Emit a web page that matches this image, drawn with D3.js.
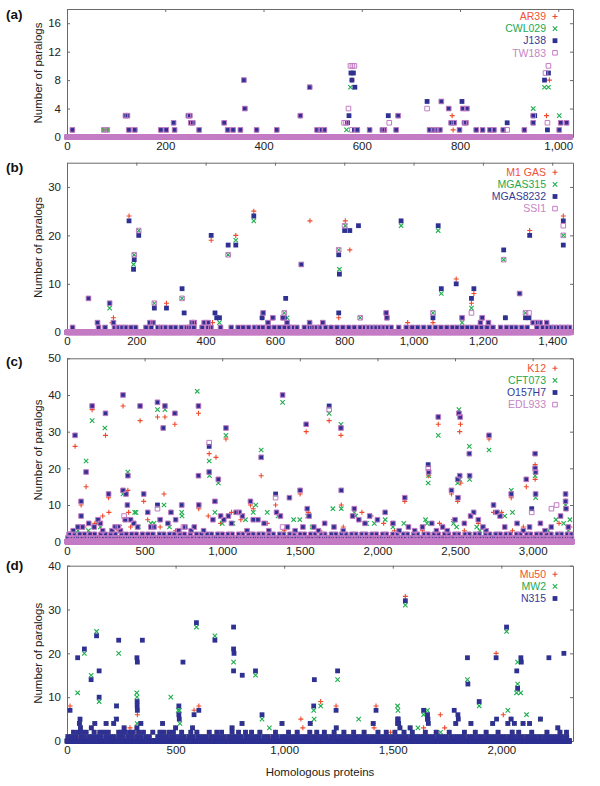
<!DOCTYPE html>
<html><head><meta charset="utf-8">
<script src="https://cdn.jsdelivr.net/npm/d3@7"></script>
<style>
body{margin:0;background:#fff}
svg{display:block}
text{font-family:"Liberation Sans",Arial,Helvetica,sans-serif}
</style>
</head><body>
<svg id="chart" width="600" height="786"></svg>
<script>
// ---------------- DATA ----------------
// (a) Chlamydophila pneumoniae strains
const a_count = 1025;
const a_common = [[11,1],[119,3],[123,3],[126,1],[138,1],[191,1],[202,1],[217,2],[219,1],[247,3],[250,3],[252,2],[256,2],[269,1],[320,2],[327,1],[338,1],[353,1],[360,8],[362,4],[386,1],[427,1],[475,3],[494,7],[509,1],[516,1],[524,1],[591,1],[616,1],[642,1],[646,1],[670,1],[674,3],[738,1],[746,1],[752,1],[759,1],[762,5],[777,4],[782,2],[788,2],[799,1],[806,4],[814,4],[809,2],[812,2],[833,1],[846,1],[861,1],[869,1],[888,1],[931,1],[949,2],[1002,1],[1005,2],[1017,2]];
const a_AR39 = [[75,1],[82,1],[580,8],[784,3],[786,1],[976,3],[982,8],[949,3]];
const a_CWL029 = [[75,1],[82,1],[569,1],[577,7],[949,4],[972,7],[980,7],[1002,3]];
const a_J138 = [[571,2],[574,3],[578,9],[583,9],[580,8],[586,7],[585,1],[654,3],[733,5],[804,5],[896,2],[952,3],[949,3],[972,8],[980,9],[978,1]];
const a_TW183 = [[75,1],[82,1],[564,2],[568,2],[573,4],[577,10],[581,10],[585,10],[580,1],[656,2],[733,4],[896,1],[949,3],[974,9],[980,10],[978,2]];

// (b) Streptococcus pyogenes strains
const b_count = 1455;
const b_common_ones = [16,91,110,137,146,158,169,185,198,228,243,262,272,283,300,313,330,345,352,366,390,407,415,443,474,494,508,524,541,552,565,582,598,613,627,641,651,663,685,700,707,720,729,746,762,779,796,813,829,846,858,868,879,890,902,912,924,935,957,979,996,1012,1029,1046,1063,1079,1096,1112,1125,1140,1155,1168,1182,1195,1212,1229,1251,1268,1283,1295,1312,1328,1356,1373,1384,1397,1406,1418,1428,1440,1450];
const b_common = [[62,7],[88,2],[134,2],[239,2],[248,2],[361,2],[367,2],[396,2],[407,2],[566,4],[580,2],[594,3],[623,3],[635,2],[676,14],[700,2],[738,2],[921,4],[923,3],[1140,3],[1193,2],[1198,3],[1216,2],[1306,8],[1345,2],[1356,2],[1365,2],[1384,2]];
const b_M1GAS = [[130,2],[134,3],[179,24],[287,6],[274,1],[416,19],[420,2],[487,20],[539,25],[563,3],[701,23],[784,3],[803,23],[816,17],[990,1],[983,2],[1056,2],[1123,11],[1167,6],[1174,8],[1265,3],[1335,21],[1432,24]];
const b_MGAS315 = [[123,5],[192,14],[194,16],[207,21],[252,6],[332,7],[440,2],[465,16],[487,19],[539,23],[627,4],[635,3],[784,17],[786,13],[803,22],[846,3],[964,22],[1056,4],[1071,21],[1080,8],[1140,2],[1167,5],[1260,15],[1323,4],[1432,20]];
const b_MGAS8232 = [[123,6],[179,23],[192,13],[194,15],[207,20],[252,5],[287,5],[332,9],[338,4],[416,20],[427,4],[432,3],[440,3],[465,18],[487,18],[539,24],[563,3],[631,7],[627,3],[784,16],[786,12],[784,4],[801,21],[816,21],[841,22],[964,23],[1056,3],[1071,22],[1080,9],[1123,10],[1167,7],[1174,9],[1260,17],[1265,3],[1323,3],[1333,3],[1335,20],[1432,23],[1432,18]];
const b_SSI1 = [[123,6],[194,16],[207,21],[252,6],[332,7],[465,16],[627,4],[784,17],[801,22],[846,3],[1056,4],[1167,4],[1260,15],[1323,4],[1333,4],[1432,22],[1432,20]];

// (c) Escherichia coli strains
const c_count = 3255;
const c_common_ones = [6,29,51,70,96,118,141,160,188,207,229,255,274,301,318,344,362,389,405,431,452,470,497,515,540,561,588,604,629,652,671,697,716,740,763,781,806,828,849,874,893,917,940,958,985,1006,1027,1052,1071,1096,1117,1139,1162,1180,1206,1225,1251,1270,1293,1317,1336,1361,1383,1402,1428,1447,1473,1494,1515,1538,1556,1583,1604,1625,1650,1668,1694,1713,1737,1759,1778,1803,1824,1846,1869,1888,1913,1932,1957,1979,1998,2024,2043,2069,2088,2112,2134,2153,2179,2200,2221,2245,2264,2290,2311,2333,2356,2375,2401,2420,2446,2465,2487,2510,2531,2553,2576,2597,2621,2640,2664,2686,2705,2731,2750,2775,2796,2818,2841,2860,2884,2905,2929,2948,2973,2994,3015,3038,3059,3082,3103,3126,3147,3170,3191,3214,3233,3250];
const c_common_twos = [14,44,83,112,149,178,219,246,283,311,352,381,418,447,486,522,553,596,623,662,689,728,756,795,835,866,904,931,972,1000,1039,1064,1107,1131,1171,1198,1238,1262,1303,1328,1370,1395,1437,1461,1503,1530,1571,1596,1639,1660,1704,1731,1770,1796,1836,1860,1901,1925,1966,1993,2035,2058,2101,2125,2168,2193,2235,2258,2302,2325,2366,2392,2433,2458,2499,2522,2566,2590,2631,2655,2698,2723,2764,2790,2830,2853,2897,2920,2962,2986,3027,3052,3093,3117,3160,3184,3224,3246];
const c_O157_common = [[52,29],[91,11],[91,7],[123,19],[162,37],[248,35],[268,13],[361,40],[361,14],[380,13],[392,18],[389,10],[471,37],[494,13],[583,38],[620,31],[631,37],[695,35],[739,10],[847,37],[847,18],[849,10],[916,19],[953,11],[975,17],[1024,31],[1182,11],[1251,23],[1389,40],[1433,12],[1502,14],[1541,32],[1548,9],[1765,31],[1767,14],[1851,9],[2176,12],[2330,19],[2392,34],[2477,14],[2517,17],[2519,12],[2525,35],[2533,34],[2530,18],[2592,24],[2594,18],[2719,29],[2748,10],[2862,13],[2959,17],[3016,24],[3016,20],[3019,19],[3019,13],[3212,13],[3212,11],[3215,9],
 [20,2],[40,3],[70,4],[100,4],[140,5],[175,4],[200,6],[215,5],[230,3],[290,3],[310,4],[330,4],[345,3],[375,6],[410,6],[430,5],[455,4],[520,8],[540,4],[560,4],[600,6],[650,5],[670,8],[700,6],[720,3],[760,4],[800,3],[820,4],[880,3],[940,6],[990,7],[1010,6],[1040,7],[1060,5],[1090,8],[1110,8],[1130,7],[1160,3],[1200,6],[1230,6],[1270,5],[1300,3],[1350,8],[1375,7],[1420,4],[1470,3],[1520,4],[1560,7],[1590,4],[1620,3],[1660,5],[1720,4],[1780,3],[1840,7],[1880,6],[1920,5],[1950,7],[2000,6],[2050,8],[2100,5],[2140,3],[2200,4],[2240,3],[2290,4],[2350,5],[2380,3],[2420,4],[2450,3],[2500,6],[2560,5],[2600,7],[2620,8],[2650,6],[2680,4],[2700,3],[2770,8],[2790,7],[2820,4],[2900,5],[2940,3],[2980,4],[3050,5],[3080,3],[3120,4],[3180,7],[3230,4]];
const c_O157H7_only = [[916,26],[1344,13],[1689,37],[2327,21],[583,10],[2994,9]];
const c_EDL933_only = [[916,27],[1344,12],[1689,36],[2327,20],[583,9],[2994,8],[3154,10],[3121,9],[1389,4],[368,7],[750,4]];
const c_K12 = [[52,26],[91,10],[123,15],[162,36],[248,29],[268,12],[270,8],[361,37],[392,14],[397,8],[471,33],[494,11],[583,34],[625,13],[631,34],[695,32],[847,35],[849,9],[916,24],[960,23],[1024,28],[1182,10],[1251,18],[1344,10],[1502,13],[1541,30],[1555,8],[1689,33],[1765,29],[1767,10],[2176,11],[2330,18],[2392,32],[2477,13],[2517,11],[2530,30],[2535,32],[2537,16],[2719,28],[2748,8],[2862,12],[2959,15],[3016,21],[3016,17],[3212,11],
 [30,2],[110,4],[180,5],[230,7],[330,3],[410,4],[520,6],[600,4],[700,3],[910,7],[990,5],[1060,8],[1120,6],[1200,9],[1290,5],[1400,3],[1580,4],[1630,3],[1780,4],[1900,8],[1960,7],[2040,5],[2110,3],[2290,3],[2400,5],[2490,6],[2560,3],[2650,5],[2800,8],[2870,3],[2940,4],[3090,2],[3170,5],[3240,4]];
const c_CFT073 = [[123,22],[162,33],[244,31],[361,13],[392,19],[436,8],[445,8],[583,36],[631,36],[625,10],[739,8],[741,7],[839,41],[916,22],[918,18],[953,8],[975,16],[1024,29],[1216,10],[1251,25],[1389,38],[1550,7],[1689,35],[1713,9],[1765,32],[1767,9],[1851,8],[2330,18],[2327,16],[2392,29],[2517,16],[2525,36],[2530,17],[2592,26],[2594,17],[2719,25],[2862,14],[3016,18],[3019,12],[3212,10],
 [70,3],[138,3],[200,5],[215,4],[300,3],[340,4],[430,5],[460,4],[540,5],[560,5],[600,6],[660,4],[1000,5],[1070,5],[1150,6],[1200,8],[1290,8],[1360,7],[1460,6],[1500,6],[1580,4],[1860,7],[1930,5],[1980,5],[2050,6],[2100,4],[2170,5],[2310,6],[2320,5],[2490,5],[2510,4],[2640,4],[2660,3],[2820,7],[2870,8],[3100,3],[3150,6],[3240,6],[3200,5],[3230,3]];

// (d) Staphylococcus aureus strains
const d_count = 2315;
const d_common_ones = [4,22,41,63,80,101,118,140,157,179,199,218,240,259,281,300,321,340,362,379,418,437,458,478,499,520,539,561,580,602,621,641,662,683,702,722,744,763,784,803,826,845,866,885,907,926,948,967,989,1008,1029,1049,1070,1090,1111,1131,1152,1172,1193,1214,1234,1255,1275,1296,1316,1337,1357,1378,1398,1419,1439,1460,1480,1501,1522,1542,1562,1583,1604,1624,1645,1665,1686,1707,1727,1747,1768,1789,1809,1829,1850,1871,1891,1911,1932,1953,1973,1993,2014,2035,2055,2075,2096,2117,2137,2157,2178,2199,2219,2240,2260,2281,2301];
const d_common_twos = [30,52,69,88,125,151,170,190,238,252,266,288,305,330,352,395,428,446,470,490,528,570,598,655,690,712,760,790,822,850,888,960,1020,1060,1118,1150,1185,1230,1275,1320,1368,1432,1470,1510,1552,1590,1650,1700,1760,1830,1880,1930,1985,2050,2080,2140,2210,2270,2300];
const d_common = [[57,4],[62,3],[112,3],[128,4],[180,4],[215,4],[263,3],[322,3],[340,4],[440,4],[500,3],[578,3],[760,3],[806,4],[990,4],[1120,4],[1240,3],[1410,4],[1523,5],[1527,4],[1533,3],[1580,3],[1660,5],[1790,4],[1860,4],[1960,4],[2030,4],[2045,5],[2060,4],[2100,4],[2130,4],[2180,5],[2260,3]];
const d_N315 = [[14,7],[49,19],[60,5],[80,21],[111,14],[136,24],[148,10],[148,16],[228,5],[228,8],[238,23],[323,9],[323,8],[324,7],[322,19],[324,18],[347,23],[515,8],[515,6],[517,5],[534,18],[585,6],[596,27],[607,7],[681,23],[767,26],[767,21],[769,20],[767,16],[807,15],[868,16],[898,6],[1139,14],[1136,8],[1239,7],[1246,16],[1423,7],[1558,32],[1525,5],[1522,4],[1642,7],[1660,6],[1662,5],[1664,4],[1783,7],[1800,6],[1802,5],[1844,19],[1846,13],[1898,9],[1976,19],[1978,5],[2024,26],[2071,16],[2075,12],[2090,19],[2092,18],[2219,19],[2288,20]];
const d_MW2 = [[49,11],[60,4],[80,20],[111,15],[136,25],[148,9],[225,5],[228,8],[238,20],[321,11],[322,10],[323,4],[478,10],[512,7],[518,7],[520,4],[596,26],[681,24],[767,18],[868,15],[898,5],[932,3],[1136,7],[1138,5],[1168,8],[1246,14],[1343,5],[1522,8],[1524,7],[1558,31],[1616,3],[1642,6],[1660,7],[1652,1],[1844,14],[1898,8],[2024,25],[2030,7],[2075,18],[2075,13],[2070,11],[2089,11],[2116,6],[1720,2]];
const d_Mu50 = [[14,8],[324,6],[322,2],[290,3],[585,7],[607,8],[1077,5],[1086,3],[1168,9],[1239,8],[1414,3],[1423,8],[1558,33],[1642,3],[1719,6],[1739,3],[1976,20],[2009,6],[1490,2]];

// tick labels
const a_xticks = [0,200,400,600,800,1000], a_yticks = [0,4,8,12,16];
const b_xticks = [0,200,400,600,800,1000,1200,1400], b_yticks = [0,10,20,30];
const c_xticks = [0,500,1000,1500,2000,2500,3000], c_yticks = [0,10,20,30,40,50];
const d_xticks = [0,500,1000,1500,2000], d_yticks = [0,10,20,30,40];

// ---------------- STYLE / LAYOUT ----------------
const RED = "#ee4a2c", GREEN = "#1fae4e", NAVY = "#2e3192", PINK = "#c47cc4";
const TXT = {red:"#ef5235", green:"#22a94f", navy:"#353a96", pink:"#c585c4"};
const L = 67, R = 573;

const ones = arr => arr.map(i => [i,1]);
const twos = arr => arr.map(i => [i,2]);

const panels = [
  {label:"(a)", labelY:19, top:9, bottom:137, xMax:1030, yMax:18, n:a_count, xt:a_xticks, yt:a_yticks, legTop:16.5,
   series:[
    {name:"AR39", shape:"plus", color:RED, tc:TXT.red, parts:[a_common, a_AR39]},
    {name:"CWL029", shape:"cross", color:GREEN, tc:TXT.green, parts:[a_common, a_CWL029]},
    {name:"J138", shape:"fsq", color:NAVY, tc:TXT.navy, parts:[a_common, a_J138]},
    {name:"TW183", shape:"osq", color:PINK, tc:TXT.pink, parts:[a_common, a_TW183]}]},
  {label:"(b)", labelY:172, top:162.7, bottom:332.3, xMax:1460, yMax:35, n:b_count, xt:b_xticks, yt:b_yticks, legTop:172.3,
   series:[
    {name:"M1 GAS", shape:"plus", color:RED, tc:TXT.red, parts:[ones(b_common_ones), b_common, b_M1GAS]},
    {name:"MGAS315", shape:"cross", color:GREEN, tc:TXT.green, parts:[ones(b_common_ones), b_common, b_MGAS315]},
    {name:"MGAS8232", shape:"fsq", color:NAVY, tc:TXT.navy, parts:[ones(b_common_ones), b_common, b_MGAS8232]},
    {name:"SSI1", shape:"osq", color:PINK, tc:TXT.pink, parts:[ones(b_common_ones), b_common, b_SSI1]}]},
  {label:"(c)", labelY:366, top:358.3, bottom:541.7, xMax:3260, yMax:50, n:c_count, xt:c_xticks, yt:c_yticks, legTop:368.3,
   series:[
    {name:"K12", shape:"plus", color:RED, tc:TXT.red, parts:[ones(c_common_ones), twos(c_common_twos), c_K12]},
    {name:"CFT073", shape:"cross", color:GREEN, tc:TXT.green, parts:[ones(c_common_ones), twos(c_common_twos), c_CFT073]},
    {name:"O157H7", shape:"fsq", color:NAVY, tc:TXT.navy, parts:[ones(c_common_ones), twos(c_common_twos), c_O157_common, c_O157H7_only]},
    {name:"EDL933", shape:"osq", color:PINK, tc:TXT.pink, parts:[ones(c_common_ones), twos(c_common_twos), c_O157_common, c_EDL933_only]}]},
  {label:"(d)", labelY:570, top:565.7, bottom:741, xMax:2330, yMax:40, n:d_count, xt:d_xticks, yt:d_yticks, legTop:574.3, xTitle:"Homologous proteins",
   series:[
    {name:"Mu50", shape:"plus", color:RED, tc:TXT.red, parts:[ones(d_common_ones), twos(d_common_twos), d_common, d_Mu50]},
    {name:"MW2", shape:"cross", color:GREEN, tc:TXT.green, parts:[ones(d_common_ones), twos(d_common_twos), d_common, d_MW2]},
    {name:"N315", shape:"fsq", color:NAVY, tc:TXT.navy, parts:[ones(d_common_ones), twos(d_common_twos), d_common, d_N315]}]}
];

function shapePath(shape, cx, cy){
  const s = 2.5;
  if (shape === "plus") return `M${cx-s},${cy}H${cx+s}M${cx},${cy-s}V${cy+s}`;
  if (shape === "cross") { const t = 2.2; return `M${cx-t},${cy-t}L${cx+t},${cy+t}M${cx+t},${cy-t}L${cx-t},${cy+t}`; }
  if (shape === "fsq") return `M${cx-2.4},${cy-2.4}h4.8v4.8h-4.8Z`;
  return `M${cx-2.3},${cy-2.3}h4.6v4.6h-4.6Z`;
}
function styleMark(sel, s){
  if (s.shape === "fsq") sel.attr("fill", s.color).attr("stroke", "none");
  else if (s.shape === "osq") sel.attr("fill", "none").attr("stroke", s.color).attr("stroke-width", 1);
  else sel.attr("fill", "none").attr("stroke", s.color).attr("stroke-width", 1.1);
}

const svg = d3.select("#chart");
const fmt = d3.format(",");
const FONT = '"Liberation Sans",Arial,sans-serif';

panels.forEach(p => {
  const x = d3.scaleLinear().domain([0, p.xMax]).range([L, R]);
  const y = d3.scaleLinear().domain([0, p.yMax]).range([p.bottom, p.top]);
  const g = svg.append("g");

  // axes (box with inward ticks)
  const ax = [
    g.append("g").attr("transform", `translate(0,${p.bottom})`).call(d3.axisBottom(x).tickValues(p.xt).tickFormat(fmt).tickSize(-3).tickSizeOuter(0).tickPadding(5)),
    g.append("g").attr("transform", `translate(0,${p.top})`).call(d3.axisTop(x).tickValues(p.xt).tickFormat("").tickSize(-3).tickSizeOuter(0)),
    g.append("g").attr("transform", `translate(${L},0)`).call(d3.axisLeft(y).tickValues(p.yt).tickSize(-3).tickSizeOuter(0).tickPadding(6)),
    g.append("g").attr("transform", `translate(${R},0)`).call(d3.axisRight(y).tickValues(p.yt).tickFormat("").tickSize(-3).tickSizeOuter(0))
  ];
  ax.forEach(a => {
    a.select(".domain").attr("stroke", "#6a6a6a").attr("stroke-width", 1);
    a.selectAll(".tick line").attr("stroke", "#6a6a6a");
    a.selectAll(".tick text").attr("fill", "#222").style("font-size", "11.5px").style("font-family", FONT);
  });

  // panel label
  svg.append("text").attr("x", 6).attr("y", p.labelY).text(p.label)
    .style("font-size", "13.5px").style("font-weight", "bold").attr("fill", "#111");

  // y title
  svg.append("text")
    .attr("transform", `translate(${42},${(p.top + p.bottom) / 2}) rotate(-90)`)
    .attr("text-anchor", "middle").style("font-size", "11.5px").attr("fill", "#222")
    .text("Number of paralogs");

  if (p.xTitle) {
    svg.append("text").attr("x", (L + R) / 2).attr("y", 776).attr("text-anchor", "middle")
      .style("font-size", "11.5px").attr("fill", "#222").text(p.xTitle);
  }

  // series
  p.series.forEach(s => {
    const listed = s.parts.flat();
    const used = new Set(listed.map(d => d[0]));
    const zeros = [];
    for (let i = 0; i < p.n; i++) if (!used.has(i)) zeros.push([i, 0]);
    const pts = zeros.concat(listed);
    const sg = g.append("g").attr("class", "series");
    const marks = sg.selectAll("path").data(pts).join("path")
      .attr("d", d => shapePath(s.shape, x(d[0]), y(d[1])));
    styleMark(marks, s);
  });

  // legend
  const lg = svg.append("g");
  p.series.forEach((s, i) => {
    const yy = p.legTop + i * 12.1;
    lg.append("text").attr("x", 546).attr("y", yy).attr("dy", "0.36em").attr("text-anchor", "end")
      .style("font-size", "10.5px").attr("fill", s.tc).text(s.name);
    const m = lg.append("path").attr("d", shapePath(s.shape, 555, yy));
    styleMark(m, s);
  });
});
</script>
</body></html>
